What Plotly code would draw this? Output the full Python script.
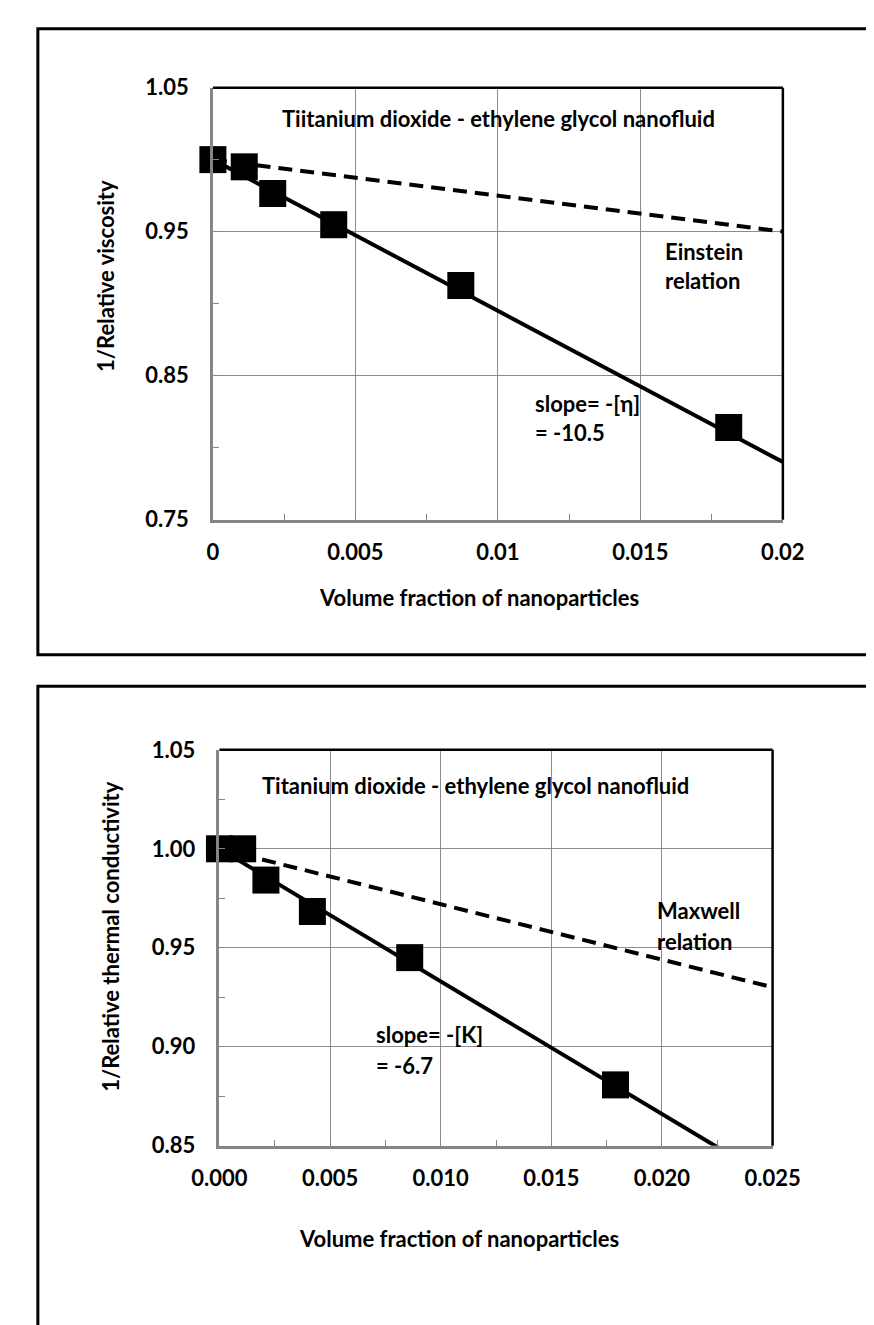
import plotly.graph_objects as go

# ---------------- data ----------------
# Top chart: 1/relative viscosity
visc_phi = [0.0, 0.0011, 0.0021, 0.00424, 0.0087, 0.0181]
visc_inv = [1.0, 0.995, 0.9765, 0.9548, 0.9126, 0.814]
visc_fit_x = [0.0, 0.02]
visc_fit_y = [1.0, 0.79]          # slope = -10.5
einstein_x = [0.0, 0.02]
einstein_y = [1.0, 0.95]

# Bottom chart: 1/relative thermal conductivity
cond_phi = [0.0, 0.00105, 0.0021, 0.0042, 0.0086, 0.0179]
cond_inv = [1.0, 1.0, 0.9842, 0.9683, 0.945, 0.8807]
cond_fit_x = [0.0, 0.025]
cond_fit_y = [1.0, 0.8325]        # slope = -6.7 (clipped by axis)
maxwell_x = [0.0, 0.025]
maxwell_y = [1.0, 0.93]

top_xticks = [0, 0.005, 0.01, 0.015, 0.02]
top_xticklabels = ["0", "0.005", "0.01", "0.015", "0.02"]
top_yticks = [0.75, 0.85, 0.95, 1.05]
top_yticklabels = ["0.75", "0.85", "0.95", "1.05"]
bot_xticks = [0, 0.005, 0.01, 0.015, 0.02, 0.025]
bot_xticklabels = ["0.000", "0.005", "0.010", "0.015", "0.020", "0.025"]
bot_yticks = [0.85, 0.90, 0.95, 1.00, 1.05]
bot_yticklabels = ["0.85", "0.90", "0.95", "1.00", "1.05"]

# ---------------- layout helpers ----------------
W, H = 874, 1325
OFF = 8          # default page body margin
FONT = "Lato"
FS = 22


def px(x):
    return (x - OFF) / W


def py(y):
    return 1 - (y - OFF) / H


fig = go.Figure()

line_w = 4
dash = "14px,8px"
# top
fig.add_trace(go.Scatter(x=einstein_x, y=einstein_y, mode="lines", xaxis="x", yaxis="y",
                         line=dict(color="black", width=line_w, dash=dash), showlegend=False))
fig.add_trace(go.Scatter(x=visc_fit_x, y=visc_fit_y, mode="lines", xaxis="x", yaxis="y",
                         line=dict(color="black", width=line_w), showlegend=False))
fig.add_trace(go.Scatter(x=visc_phi, y=visc_inv, mode="markers", xaxis="x", yaxis="y",
                         marker=dict(symbol="square", size=27, color="black"),
                         cliponaxis=False, showlegend=False))
# bottom
fig.add_trace(go.Scatter(x=maxwell_x, y=maxwell_y, mode="lines", xaxis="x2", yaxis="y2",
                         line=dict(color="black", width=line_w, dash=dash), showlegend=False))
fig.add_trace(go.Scatter(x=cond_fit_x, y=cond_fit_y, mode="lines", xaxis="x2", yaxis="y2",
                         line=dict(color="black", width=line_w), showlegend=False))
fig.add_trace(go.Scatter(x=cond_phi, y=cond_inv, mode="markers", xaxis="x2", yaxis="y2",
                         marker=dict(symbol="square", size=27, color="black"),
                         cliponaxis=False, showlegend=False))

GRID = "#8c8c8c"
AXIS = "#858585"
tickfont = dict(family=FONT, size=FS, color="black", weight="bold")


def xax(domain, rng, vals, labels, minor_dtick, anchor):
    return dict(domain=domain, range=rng, anchor=anchor, tickmode="array", tickvals=vals,
                ticktext=labels, showgrid=True, gridcolor=GRID, gridwidth=1.3,
                zeroline=False, showline=True, linecolor=AXIS, linewidth=2.5,
                ticks="inside", ticklen=6, tickcolor=AXIS, tickfont=tickfont,
                ticklabelstandoff=11,
                minor=dict(dtick=minor_dtick, tick0=0, ticks="inside", ticklen=6,
                           tickcolor=AXIS, showgrid=False),
                fixedrange=True)


def yax(domain, rng, vals, labels, minor_dtick, tick0, anchor):
    return dict(domain=domain, range=rng, anchor=anchor, tickmode="array", tickvals=vals,
                ticktext=labels, showgrid=True, gridcolor=GRID, gridwidth=1.3,
                zeroline=False, showline=True, linecolor=AXIS, linewidth=2.5,
                ticks="inside", ticklen=6, tickcolor=AXIS, tickfont=tickfont,
                ticklabelstandoff=17,
                minor=dict(dtick=minor_dtick, tick0=tick0, ticks="inside", ticklen=6,
                           tickcolor=AXIS, showgrid=False),
                fixedrange=True)


fig.update_layout(
    width=W, height=H, margin=dict(l=0, r=0, t=0, b=0),
    paper_bgcolor="white", plot_bgcolor="white",
    font=dict(family=FONT, size=FS, color="black", weight="bold"),
    xaxis=xax([px(197), px(806)], [0, 0.02], top_xticks, top_xticklabels, 0.0025, "y"),
    yaxis=yax([py(516), py(75)], [0.75, 1.05], top_yticks, top_yticklabels, 0.05, 0.75, "x"),
    xaxis2=xax([px(204), px(795)], [0, 0.025], bot_xticks, bot_xticklabels, 0.0025, "y2"),
    yaxis2=yax([py(1155), py(751)], [0.85, 1.05], bot_yticks, bot_yticklabels, 0.025, 0.85, "x2"),
)

shapes = []
# outer boxes (extend past the right / bottom edge like the original)
shapes.append(dict(type="rect", xref="paper", yref="paper", x0=px(10), x1=px(900),
                   y0=py(654), y1=py(15), line=dict(color="black", width=3)))
shapes.append(dict(type="rect", xref="paper", yref="paper", x0=px(10), x1=px(900),
                   y0=py(1360), y1=py(686), line=dict(color="black", width=3)))
# plot-area top/right border (black)
for xr, yr in (("x domain", "y domain"), ("x2 domain", "y2 domain")):
    shapes.append(dict(type="line", xref=xr, yref=yr, x0=0, x1=1, y0=1, y1=1,
                       line=dict(color="black", width=2.5)))
    shapes.append(dict(type="line", xref=xr, yref=yr, x0=1, x1=1, y0=0, y1=1,
                       line=dict(color="black", width=2.5)))
fig.update_layout(shapes=shapes)

tf = dict(family=FONT, size=FS, color="black", weight="bold")
ann = []


def text(x, y, s, xanchor="left", angle=0):
    ann.append(dict(x=px(x), y=py(y), xref="paper", yref="paper", text=s, showarrow=False,
                    xanchor=xanchor, yanchor="middle", font=tf, textangle=angle))


# top chart texts
text(502, 107, "Tiitanium dioxide - ethylene glycol nanofluid", "center")
text(678, 242, "Einstein")
text(678, 272, "relation")
text(539, 397, "slope= -[η]")
text(539, 427, "= -10.5")
text(481, 595, "Volume fraction of nanoparticles", "center")
text(82, 267, "1/Relative viscosity", "center", -90)

# bottom chart texts
text(478, 787, "Titanium dioxide - ethylene glycol nanofluid", "center")
text(669, 915, "Maxwell")
text(669, 947, "relation")
text(369, 1042, "slope= -[K]")
text(369, 1073, "= -6.7")
text(460, 1250, "Volume fraction of nanoparticles", "center")
text(88, 941, "1/Relative thermal conductivity", "center", -90)

fig.update_layout(annotations=ann)

fig.write_html("out.html")
